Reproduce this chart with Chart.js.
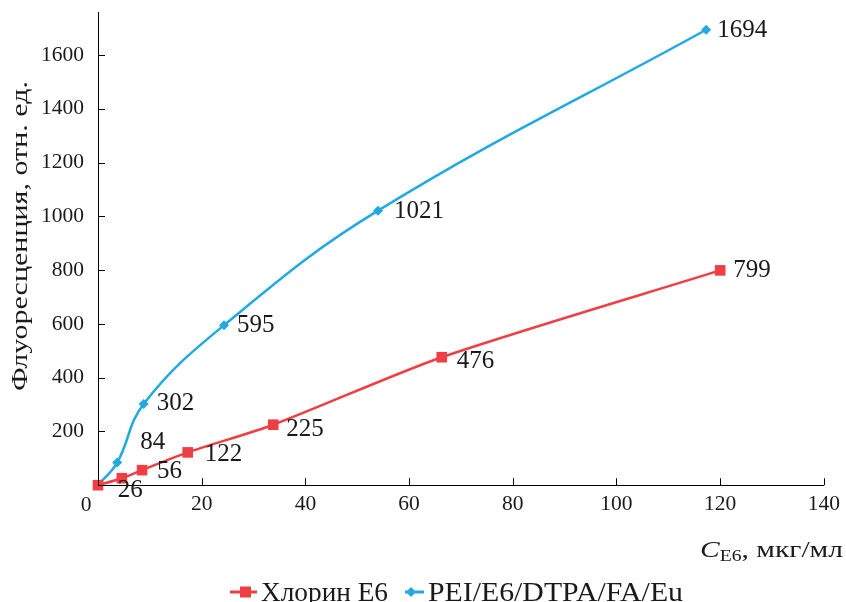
<!DOCTYPE html>
<html>
<head>
<meta charset="utf-8">
<script src="https://cdn.jsdelivr.net/npm/chart.js@4"></script>
<style>
  html, body { margin: 0; padding: 0; background: #fff; }
  #wrap { width: 846px; height: 602px; }
</style>
</head>
<body>
<div id="wrap"><canvas id="chart" width="846" height="602"></canvas></div>
<script>
// Data
const chlorinX = [0, 4.6, 8.5, 17.3, 33.8, 66.3, 120];
const chlorinY = [0, 26, 56, 122, 225, 476, 799];
const chlorinLabels = ['', '26', '56', '122', '225', '476', '799'];

const peiX = [0, 3.7, 8.8, 24.3, 54, 117.3];
const peiY = [0, 84, 302, 595, 1021, 1694];
const peiLabels = ['', '84', '302', '595', '1021', '1694'];

const yTickValues = [0, 200, 400, 600, 800, 1000, 1200, 1400, 1600];
const xTickValues = [0, 20, 40, 60, 80, 100, 120, 140];

const seriesNames = ['Хлорин E6', 'PEI/E6/DTPA/FA/Eu'];
const yTitle = 'Флуоресценция, отн. ед.';

const RED = '#EE3F45';
const BLUE = '#22A9E1';
const INK = '#1a1a1a';
const SERIF = '"Liberation Serif", "DejaVu Serif", serif';

// label offsets from each point (dx, dy), style only
const chlorinOffsets = [[0, 0], [-4, 12], [15, 1], [17, 2], [13, 5], [15, 4], [13, 0]];
const peiOffsets = [[0, 0], [23, -20], [13, -1], [13, 0], [16, 1], [11, 1]];

function toPoints(xs, ys) {
    return xs.map((x, i) => ({ x: x, y: ys[i] }));
}

// draw text squeezed/stretched horizontally to a given width (reference font is wider)
function fitText(ctx, text, x, y, width) {
    const w = ctx.measureText(text).width;
    ctx.save();
    ctx.translate(x, y);
    ctx.scale(width / w, 1);
    ctx.fillText(text, 0, 0);
    ctx.restore();
}

// labels next to points, inside ticks, axis titles, legend
const decorPlugin = {
    id: 'decor',
    afterDatasetsDraw(chart) {
        const ctx = chart.ctx;
        const xs = chart.scales.x;
        const ys = chart.scales.y;
        const area = chart.chartArea;
        ctx.save();

        // inward tick marks
        ctx.strokeStyle = '#000';
        ctx.lineWidth = 1;
        xs.ticks.forEach(t => {
            const px = Math.round(xs.getPixelForValue(t.value)) + 0.5;
            ctx.beginPath();
            ctx.moveTo(px, area.bottom);
            ctx.lineTo(px, area.bottom - 7);
            ctx.stroke();
        });
        ys.ticks.forEach(t => {
            const py = Math.round(ys.getPixelForValue(t.value)) + 0.5;
            ctx.beginPath();
            ctx.moveTo(area.left, py);
            ctx.lineTo(area.left + 7, py);
            ctx.stroke();
        });

        // corner zero
        ctx.fillStyle = INK;
        ctx.font = '21.5px ' + SERIF;
        ctx.textAlign = 'center';
        ctx.textBaseline = 'middle';
        ctx.fillText('0', xs.getPixelForValue(0) - 12, area.bottom + 20);

        // data labels
        ctx.font = '25px ' + SERIF;
        ctx.textAlign = 'left';
        const sets = [[chlorinLabels, chlorinOffsets], [peiLabels, peiOffsets]];
        sets.forEach(([labels, offs], di) => {
            const meta = chart.getDatasetMeta(di);
            meta.data.forEach((el, i) => {
                if (!labels[i]) return;
                ctx.fillText(labels[i], el.x + offs[i][0], el.y + offs[i][1]);
            });
        });

        // y axis title
        ctx.save();
        ctx.translate(21, 236);
        ctx.rotate(-Math.PI / 2);
        ctx.font = '23px ' + SERIF;
        ctx.textAlign = 'left';
        ctx.textBaseline = 'middle';
        fitText(ctx, yTitle, -155, 0, 310);
        ctx.restore();

        // x axis title with subscript
        ctx.textBaseline = 'alphabetic';
        ctx.textAlign = 'left';
        const base = 557;
        const p1 = 'C', p2 = 'E6', p3 = ', мкг/мл';
        ctx.font = 'italic 24px ' + SERIF;
        const w1 = ctx.measureText(p1).width;
        ctx.font = '16px ' + SERIF;
        const w2 = ctx.measureText(p2).width;
        ctx.font = '24px ' + SERIF;
        const w3 = ctx.measureText(p3).width;
        const sx = 143 / (w1 + w2 + w3);
        ctx.save();
        ctx.translate(700, base);
        ctx.scale(sx, 1);
        ctx.font = 'italic 24px ' + SERIF;
        ctx.fillText(p1, 0, 0);
        ctx.font = '16px ' + SERIF;
        ctx.fillText(p2, w1, 4);
        ctx.font = '24px ' + SERIF;
        ctx.fillText(p3, w1 + w2, 0);
        ctx.restore();

        // legend
        const ly = 592;
        ctx.lineWidth = 3;
        ctx.strokeStyle = RED;
        ctx.beginPath();
        ctx.moveTo(230, ly);
        ctx.lineTo(257, ly);
        ctx.stroke();
        ctx.fillStyle = RED;
        ctx.fillRect(240, ly - 5.5, 11, 11);
        ctx.strokeStyle = BLUE;
        ctx.beginPath();
        ctx.moveTo(405, ly);
        ctx.lineTo(424, ly);
        ctx.stroke();
        ctx.fillStyle = BLUE;
        ctx.beginPath();
        ctx.moveTo(411, ly - 5);
        ctx.lineTo(416, ly);
        ctx.lineTo(411, ly + 5);
        ctx.lineTo(406, ly);
        ctx.closePath();
        ctx.fill();

        ctx.fillStyle = INK;
        ctx.font = '27px ' + SERIF;
        ctx.textBaseline = 'alphabetic';
        fitText(ctx, seriesNames[0], 261, 601, 127);
        fitText(ctx, seriesNames[1], 428, 601, 255);

        ctx.restore();
    }
};

new Chart(document.getElementById('chart'), {
    type: 'scatter',
    data: {
        datasets: [
            {
                label: seriesNames[0],
                data: toPoints(chlorinX, chlorinY),
                showLine: true,
                borderColor: RED,
                backgroundColor: RED,
                borderWidth: 2.5,
                tension: 0.25,
                pointStyle: 'rect',
                pointRadius: 7.5,
                pointBorderWidth: 0,
                clip: false
            },
            {
                label: seriesNames[1],
                data: toPoints(peiX, peiY),
                showLine: true,
                borderColor: BLUE,
                backgroundColor: BLUE,
                borderWidth: 2.5,
                tension: 0.4,
                pointStyle: 'rectRot',
                pointRadius: 5,
                pointBorderWidth: 0,
                clip: false
            }
        ]
    },
    options: {
        responsive: false,
        animation: false,
        layout: { padding: { top: 12, right: 20, bottom: 79, left: 0 } },
        plugins: {
            legend: { display: false },
            tooltip: { enabled: false }
        },
        scales: {
            x: {
                type: 'linear',
                min: 0,
                max: 140,
                afterBuildTicks: s => { s.ticks = xTickValues.map(v => ({ value: v })); },
                ticks: {
                    color: INK,
                    font: { family: SERIF, size: 21.5 },
                    padding: 6,
                    maxRotation: 0,
                    callback: v => v === 0 ? '' : v
                },
                grid: { display: false, drawTicks: false },
                border: { display: true, color: '#000', width: 1 }
            },
            y: {
                min: 0,
                max: 1760,
                afterBuildTicks: s => { s.ticks = yTickValues.map(v => ({ value: v })); },
                afterFit: s => { s.width = 98; s.paddingTop = 0; },
                ticks: {
                    color: INK,
                    font: { family: SERIF, size: 21.5 },
                    padding: 14,
                    callback: v => v === 0 ? '' : v
                },
                grid: { display: false, drawTicks: false },
                border: { display: true, color: '#000', width: 1 }
            }
        }
    },
    plugins: [decorPlugin]
});
</script>
</body>
</html>
